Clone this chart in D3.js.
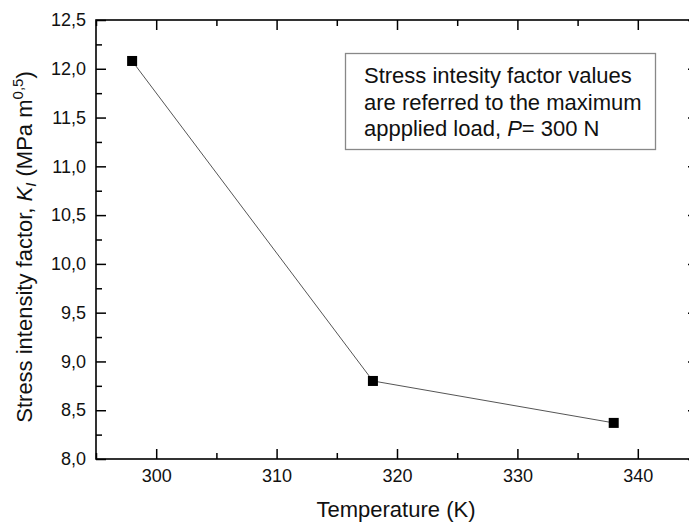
<!DOCTYPE html>
<html>
<head>
<meta charset="utf-8">
<script src="https://cdn.jsdelivr.net/npm/d3@7"></script>
<style>
	body { margin: 0; background: #fff; }
	svg { display: block; font-family: "Liberation Sans", Arial, sans-serif; }
</style>
</head>
<body>
<svg id="chart"></svg>
<script>
var temps = [298, 318, 338],
	kValues = [12.08, 8.80, 8.37],
	xMajorTicks = [300, 310, 320, 330, 340],
	xMinorTicks = [295, 305, 315, 325, 335, 345],
	yMajorTicks = [8.0, 8.5, 9.0, 9.5, 10.0, 10.5, 11.0, 11.5, 12.0, 12.5],
	yMinorTicks = [8.25, 8.75, 9.25, 9.75, 10.25, 10.75, 11.25, 11.75, 12.25],
	noteLines = ["Stress intesity factor values", "are referred to the maximum"];

var margin = {top: 20, left: 96},
	width = 602,
	height = 439,
	svg = d3.select("#chart")
		.attr("width", 689)
		.attr("height", 525),
	g = svg.append("g")
		.attr("transform", "translate(" + margin.left + "," + margin.top + ")"),
	x = d3.scaleLinear().domain([295, 345]).range([0, width]),
	y = d3.scaleLinear().domain([8, 12.5]).range([height, 0]),
	comma = function(d) { return d3.format(".1f")(d).replace(".", ","); };

// axes, ticks pointing inwards like Origin does
function addAxis(axis, tr, ticks, size, fmt) {
	var a = g.append("g")
		.attr("transform", tr)
		.call(axis.tickValues(ticks).tickSize(size).tickPadding(10).tickFormat(fmt));
	a.select(".domain").remove();
	a.selectAll("line").attr("stroke", "#000").attr("stroke-width", 1.5);
	a.selectAll("text").attr("fill", "#111").style("font-size", "18px")
		.style("font-family", "'Liberation Sans', Arial, sans-serif");
	return a;
}
addAxis(d3.axisBottom(x), "translate(0," + height + ")", xMajorTicks, -10, d3.format("d"));
addAxis(d3.axisBottom(x), "translate(0," + height + ")", xMinorTicks, -6, "");
addAxis(d3.axisTop(x), "translate(0,0)", xMajorTicks, -10, "");
addAxis(d3.axisTop(x), "translate(0,0)", xMinorTicks, -6, "");
addAxis(d3.axisLeft(y), "translate(0,0)", yMajorTicks, -10, comma);
addAxis(d3.axisLeft(y), "translate(0,0)", yMinorTicks, -6, "");
addAxis(d3.axisRight(y), "translate(" + width + ",0)", yMajorTicks, -10, "");
addAxis(d3.axisRight(y), "translate(" + width + ",0)", yMinorTicks, -6, "");

g.append("rect")
	.attr("width", width)
	.attr("height", height)
	.attr("fill", "none")
	.attr("stroke", "#000")
	.attr("stroke-width", 1.6);

var pts = temps.map(function(t, i) { return [t, kValues[i]]; });

g.append("path")
	.datum(pts)
	.attr("fill", "none")
	.attr("stroke", "#555")
	.attr("stroke-width", 1)
	.attr("d", d3.line().x(function(d) { return x(d[0]); }).y(function(d) { return y(d[1]); }));

g.selectAll(".pt")
	.data(pts)
	.enter().append("rect")
	.attr("class", "pt")
	.attr("x", function(d) { return x(d[0]) - 5; })
	.attr("y", function(d) { return y(d[1]) - 5; })
	.attr("width", 10)
	.attr("height", 10)
	.attr("fill", "#000");

// note box
svg.append("rect")
	.attr("x", 345.5).attr("y", 53.5)
	.attr("width", 310).attr("height", 96)
	.attr("fill", "#fff")
	.attr("stroke", "#888")
	.attr("stroke-width", 1.3);

noteLines.forEach(function(s, i) {
	svg.append("text")
		.attr("x", 364).attr("y", 83 + i * 26.5)
		.style("font-size", "22px").attr("fill", "#111")
		.text(s);
});
var last = svg.append("text")
	.attr("x", 364).attr("y", 136)
	.style("font-size", "22px").attr("fill", "#111");
last.append("tspan").text("appplied load, ");
last.append("tspan").style("font-style", "italic").text("P");
last.append("tspan").text("= 300 N");

// axis titles
svg.append("text")
	.attr("x", margin.left + width / 2 - 1)
	.attr("y", 517)
	.attr("text-anchor", "middle")
	.style("font-size", "22px").attr("fill", "#111")
	.text("Temperature (K)");

var yt = svg.append("text")
	.attr("transform", "translate(32,247) rotate(-90)")
	.attr("text-anchor", "middle")
	.style("font-size", "22px").attr("fill", "#111");
yt.append("tspan").text("Stress intensity factor, ");
yt.append("tspan").style("font-style", "italic").text("K");
yt.append("tspan").style("font-style", "italic").style("font-size", "15px").attr("dy", 4).text("I");
yt.append("tspan").attr("dy", -4).text(" (MPa m");
yt.append("tspan").style("font-size", "15px").attr("dy", -9).text("0,5");
yt.append("tspan").attr("dy", 9).text(")");
</script>
</body>
</html>
